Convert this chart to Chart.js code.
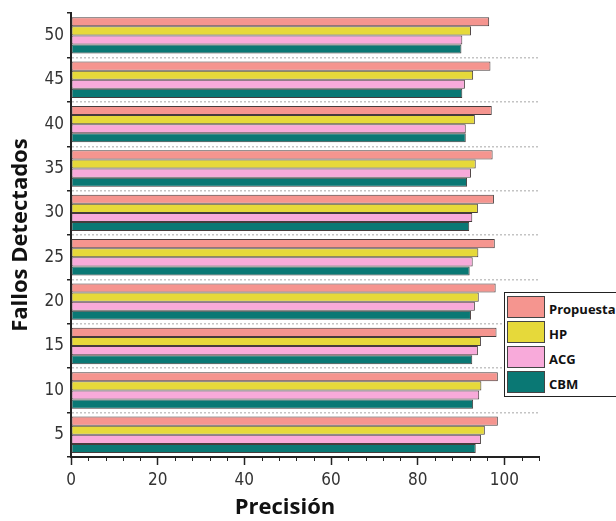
<!DOCTYPE html>
<html>
<head>
<meta charset="utf-8">
<script src="https://cdn.jsdelivr.net/npm/chart.js@4.4.1/dist/chart.umd.min.js"></script>
<style>
    body { margin: 0; width: 616px; height: 521px; overflow: hidden; background: #fff; position: relative; }
    #chart { position: absolute; left: 0; top: 0; }
    #legend { position: absolute; left: 504px; top: 292px; width: 130px; height: 103px; border: 1px solid #222; background: #fff; }
    .item { display: flex; align-items: center; height: 22px; margin: 3px 0 0 2px; }
    .item span.box { width: 36px; height: 20px; border: 1px solid #444; margin-right: 4px; }
    .item span.txt { font: bold 13px "Open Sans", sans-serif; color: #111; margin-top: 4px; }
</style>
</head>
<body>
<canvas id="chart" width="616" height="521"></canvas>
<div id="legend"></div>
<script>
const categories = ["50", "45", "40", "35", "30", "25", "20", "15", "10", "5"];
const propuesta = [96.5, 96.8, 97.1, 97.3, 97.6, 97.8, 98.0, 98.2, 98.5, 98.5];
const hp = [92.3, 92.8, 93.2, 93.4, 93.9, 94.0, 94.1, 94.6, 94.7, 95.5];
const acg = [90.3, 90.9, 91.1, 92.3, 92.6, 92.7, 93.2, 93.9, 94.2, 94.6];
const cbm = [90.1, 90.3, 91.1, 91.4, 91.9, 92.0, 92.3, 92.6, 92.8, 93.4];
const seriesNames = ["Propuesta", "HP", "ACG", "CBM"];
const seriesColors = ["#F5958F", "#E6D93A", "#F8AADA", "#0A7874"];
const xTicks = [0, 20, 40, 60, 80, 100];

const tickFont = { family: "'Liberation Sans Narrow', 'DejaVu Sans Condensed', 'Liberation Sans', sans-serif", size: 17 };
const titleFont = { family: "'Open Sans', sans-serif", size: 22, weight: "bold" };

let values = [propuesta, hp, acg, cbm];
let datasets = seriesNames.map(function(name, i) {
    return {
        label: name,
        data: values[i],
        backgroundColor: seriesColors[i],
        borderColor: "#463c3c",
        borderWidth: 1,
        borderSkipped: false,
        categoryPercentage: 0.82,
        barPercentage: 1.0
    };
});

// short minor ticks every 4 units on the value axis
const minorTicks = {
    id: "minorTicks",
    afterDraw: function(chart) {
        let x = chart.scales.x;
        let ctx = chart.ctx;
        ctx.save();
        ctx.strokeStyle = "#222";
        ctx.lineWidth = 1;
        for (let v = x.min; v <= x.max; v += 4) {
            if (v % 20 === 0) continue;
            let px = Math.round(x.getPixelForValue(v)) + 0.5;
            ctx.beginPath();
            ctx.moveTo(px, x.top);
            ctx.lineTo(px, x.top + 4);
            ctx.stroke();
        }
        ctx.restore();
    }
};

new Chart(document.getElementById("chart"), {
    type: "bar",
    data: { labels: categories, datasets: datasets },
    plugins: [minorTicks],
    options: {
        indexAxis: "y",
        responsive: false,
        animation: false,
        layout: { padding: { left: 0, right: 77, top: 12, bottom: 0 } },
        plugins: {
            legend: { display: false },
            tooltip: { enabled: false }
        },
        scales: {
            x: {
                min: 0,
                max: 108,
                afterBuildTicks: function(scale) {
                    scale.ticks = xTicks.map(function(v) { return { value: v }; });
                },
                afterFit: function(scale) { scale.height = 64; },
                ticks: { font: tickFont, color: "#333", padding: 5, maxRotation: 0 },
                grid: { drawOnChartArea: false, drawTicks: true, tickLength: 8, tickColor: "#222", tickWidth: 1.5 },
                border: { color: "#222", width: 2 },
                title: {
                    display: true,
                    text: "Precisión\u00a0\u00a0\u00a0\u00a0\u00a0\u00a0\u00a0",
                    font: titleFont,
                    color: "#111",
                    padding: { top: 0, bottom: 0 }
                }
            },
            y: {
                afterFit: function(scale) { scale.width = 71; },
                ticks: { font: tickFont, color: "#333", padding: 3 },
                grid: {
                    offset: true,
                    color: function(ctx) { return ctx.index === 0 ? "rgba(0,0,0,0)" : "#c4c4c4"; },
                    lineWidth: 1.5,
                    tickLength: 4,
                    tickColor: "#222",
                    tickWidth: 1.5
                },
                border: { color: "#222", width: 2, dash: [2, 2] },
                title: {
                    display: true,
                    text: "Fallos Detectados",
                    font: titleFont,
                    color: "#111",
                    padding: { top: 8, bottom: 0 }
                }
            }
        }
    }
});

// legend box
let legend = document.getElementById("legend");
seriesNames.forEach(function(name, i) {
    let item = document.createElement("div");
    item.className = "item";
    item.innerHTML = '<span class="box" style="background:' + seriesColors[i] + '"></span><span class="txt">' + name + '</span>';
    legend.appendChild(item);
});
</script>
</body>
</html>
